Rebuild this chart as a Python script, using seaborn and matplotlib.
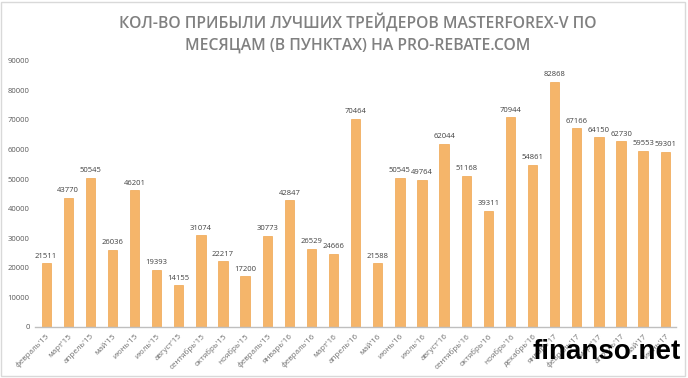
import numpy as np
import pandas as pd
import seaborn as sns
from matplotlib import pyplot as plt
from matplotlib.patches import Rectangle

# months as printed on the chart (the 11th label repeats "февраль'15" in the original)
months = ["февраль'15", "март'15", "апрель'15", "май'15", "июнь'15", "июль'15",
          "август'15", "сентябрь'15", "октябрь'15", "ноябрь'15", "февраль'15",
          "январь'16", "февраль'16", "март'16", "апрель'16", "май'16", "июнь'16",
          "июль'16", "август'16", "сентябрь'16", "октябрь'16", "ноябрь'16",
          "декабрь'16", "январь'17", "февраль'17", "март'17", "апрель'17",
          "май'17", "июнь'17"]
profit = [21511, 43770, 50545, 26036, 46201, 19393, 14155, 31074, 22217, 17200,
          30773, 42847, 26529, 24666, 70464, 21588, 50545, 49764, 62044, 51168,
          39311, 70944, 54861, 82868, 67166, 64150, 62730, 59553, 59301]
yticks = list(range(0, 90001, 10000))

title = "КОЛ-ВО ПРИБЫЛИ ЛУЧШИХ ТРЕЙДЕРОВ MASTERFOREX-V ПО\nМЕСЯЦАМ (В ПУНКТАХ) НА PRO-REBATE.COM"

df = pd.DataFrame({'idx': range(len(profit)), 'profit': profit})

sns.set_theme(style="white")
plt.rcParams['font.family'] = ['Open Sans', 'DejaVu Sans']

fig = plt.figure(figsize=(6.88, 3.78), dpi=100)
ax = fig.add_axes([0.051, 0.135, 0.932, 0.704])

sns.barplot(data=df, x='idx', y='profit', color='#F5B56A', saturation=1,
            width=0.42, edgecolor='#EFA650', linewidth=0.5, ax=ax)

for i, v in enumerate(profit):
    ax.text(i, v + 1200, str(v), ha='center', va='bottom', fontsize=5.5, color='#404040')

ax.set_ylim(0, 90000)
ax.set_xlim(-0.5, len(profit) - 0.5)
ax.set_yticks(yticks)
ax.set_yticklabels([str(t) for t in yticks], fontsize=5.5, color='#595959')
ax.set_xticks(range(len(months)))
ax.set_xticklabels(months, rotation=45, ha='right', rotation_mode='anchor',
                   fontsize=5.8, color='#707070')
ax.tick_params(axis='both', length=0, pad=4)
ax.set_xlabel('')
ax.set_ylabel('')
for s in ['top', 'right', 'left']:
    ax.spines[s].set_visible(False)
ax.spines['bottom'].set_color('#BFBFBF')
ax.spines['bottom'].set_linewidth(1)

fig.text(0.52, 0.913, title, ha='center', va='center', fontsize=11.3,
         color='#808080', fontweight='semibold', linespacing=1.55)

fig.text(0.99, 0.07, "finanso.net", ha='right', va='center', fontsize=20,
         fontweight='bold', color='black', family=['Liberation Sans', 'DejaVu Sans'])

fig.patches.append(Rectangle((0.002, 0.004), 0.994, 0.99, transform=fig.transFigure,
                             fill=False, edgecolor='#D9D9D9', linewidth=1))

plt.savefig("out.png", dpi=100)
